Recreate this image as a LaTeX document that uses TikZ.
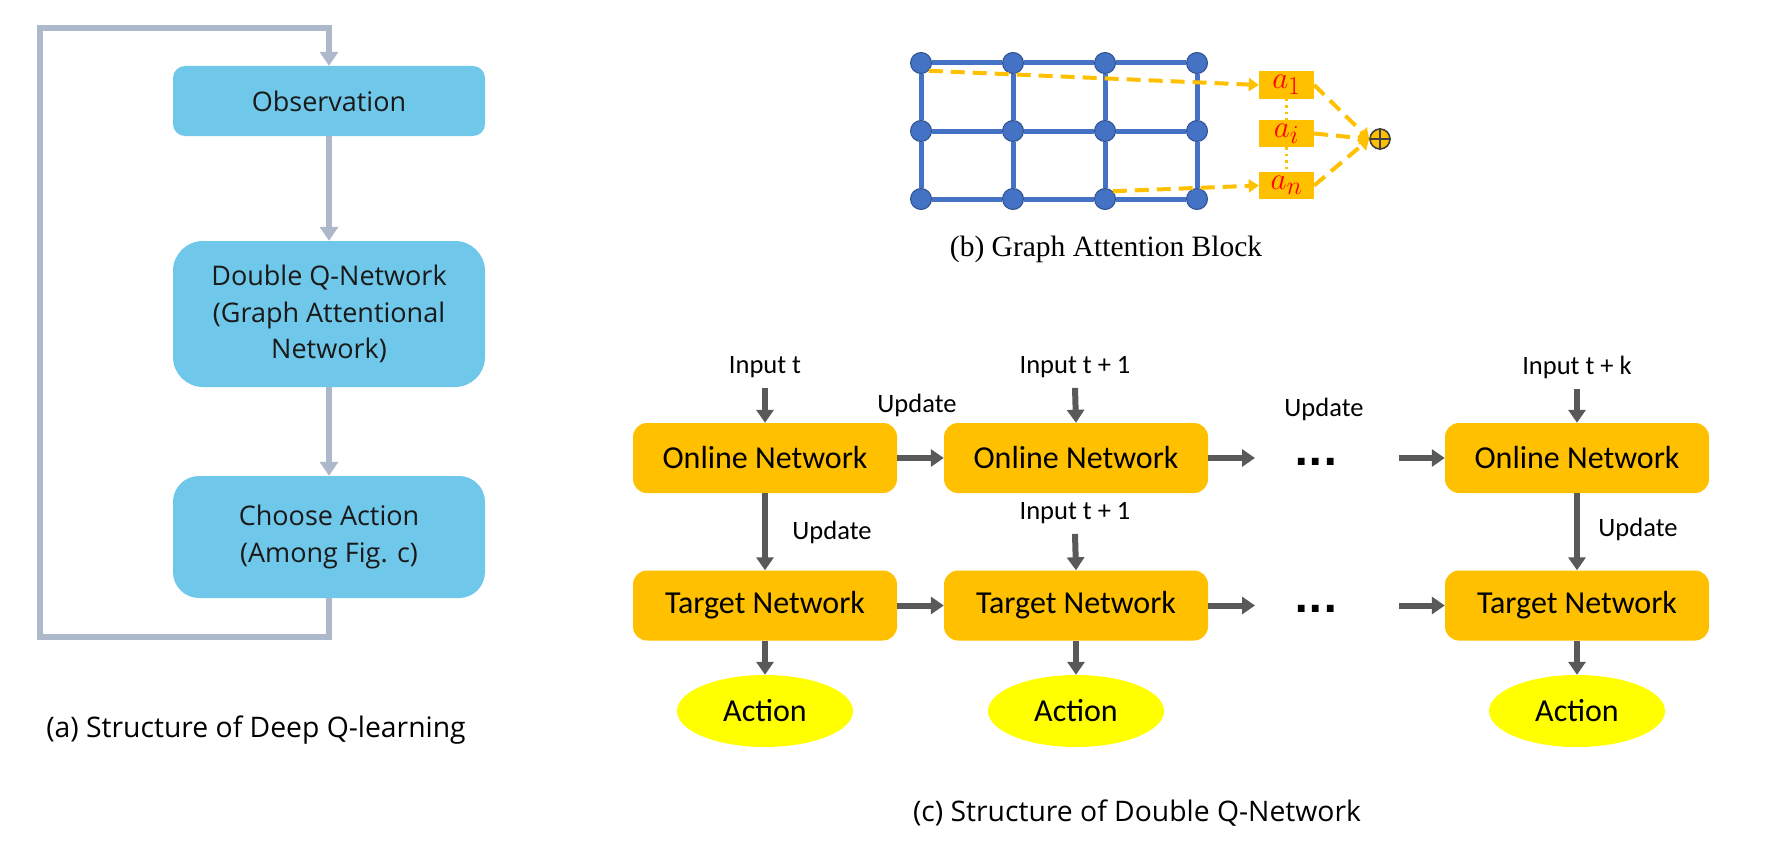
\documentclass[tikz,border=0pt]{standalone}
\usepackage{graphicx}
\usepackage{fontspec}
\setmainfont{Open Sans}
\newfontfamily\cfont{Carlito}
\newfontfamily\sfont{Liberation Serif}
\newfontfamily\dfont{DejaVu Sans}
\usetikzlibrary{arrows.meta,shapes.geometric}
\definecolor{skyb}{HTML}{6FC7EA}
\definecolor{loopc}{HTML}{ADB9CA}
\definecolor{gold}{HTML}{FFC000}
\definecolor{yel}{HTML}{FFFF00}
\definecolor{darkg}{HTML}{595959}
\definecolor{nodeb}{HTML}{4472C4}
\definecolor{nodebd}{HTML}{2F4F8F}
\definecolor{sumbd}{HTML}{404040}
\newcommand\amath[1]{\scalebox{1.25}{$#1$}}
\tikzset{
  abox/.style={fill=skyb, minimum width=312pt, inner sep=0pt, align=center,
    text=black!90, font=\fontsize{27}{36.6}\selectfont},
  aarrow/.style={draw=loopc, line width=6pt, -{Triangle[width=18pt,length=14pt]}},
  cbox/.style={fill=gold, rounded corners=14pt, minimum width=264pt,
    minimum height=70pt, inner sep=0pt, font=\cfont\fontsize{32}{36}\selectfont},
  cell/.style={ellipse, fill=yel, minimum width=176pt, minimum height=72pt,
    inner sep=0pt, font=\cfont\fontsize{32}{36}\selectfont},
  clbl/.style={font=\cfont\fontsize{26.5}{30}\selectfont, inner xsep=0pt, inner ysep=10pt},
  cdots/.style={font=\dfont\bfseries\fontsize{38}{40}\selectfont, inner sep=0pt},
  carrow/.style={draw=darkg, line width=6pt, -{Triangle[width=17pt,length=13pt]}},
  gnode/.style={circle, fill=nodeb, draw=nodebd, line width=1pt, minimum size=21pt, inner sep=0pt},
  gedge/.style={draw=nodeb, line width=5pt},
  ybox/.style={fill=gold, minimum width=55pt, minimum height=27pt, inner sep=0pt,
    text=red, font=\fontsize{24.88}{28}\selectfont},
  ydash/.style={draw=gold, line width=4pt, dash pattern=on 14pt off 8pt},
  ydashtip/.style={ydash, -{Triangle[width=13pt,length=10pt]}},
  ydot/.style={draw=gold, line width=2.5pt, dash pattern=on 2.5pt off 4pt},
  capfont/.style={font=\fontsize{28.3}{32}\selectfont},
}
\begin{document}
\begin{tikzpicture}[x=1pt,y=-1pt]
\useasboundingbox (0,0) rectangle (1765,859);

% ---------------- (a) ----------------
\node[abox, minimum height=70pt, rounded corners=12pt] (obs) at (329,101) {Observation};
\node[abox, minimum height=146pt, rounded corners=30pt] (dqn) at (329,314)
  {Double Q-Network\\(Graph Attentional\\Network)};
\node[abox, minimum height=122pt, rounded corners=26pt] (act) at (329,537)
  {Choose Action\\(Among Fig. c)};
\coordinate (lbl) at (40,637);
\coordinate (ltl) at (40,28);
\draw[aarrow] (obs.south) -- (dqn.north);
\draw[aarrow] (dqn.south) -- (act.north);
\draw[aarrow] (act.south) |- (lbl) -- (ltl) -| (obs.north);
\node[capfont] (capa) at (256,730) {(a) Structure of Deep Q-learning};

% ---------------- (b) ----------------
\foreach \c/\x in {1/921,2/1013,3/1105,4/1197}{
  \foreach \r/\y in {1/63,2/131,3/199}{
    \node[gnode] (n\r\c) at (\x,\y) {};
  }
}
\foreach \r in {1,2,3}{
  \draw[gedge] (n\r1) -- (n\r2);
  \draw[gedge] (n\r2) -- (n\r3);
  \draw[gedge] (n\r3) -- (n\r4);
}
\foreach \c in {1,2,3,4}{
  \draw[gedge] (n1\c) -- (n2\c);
  \draw[gedge] (n2\c) -- (n3\c);
}
\node[ybox] (a1) at (1286.5,85) {\amath{a_1}};
\node[ybox] (ai) at (1286.5,133.5) {\amath{a_i}};
\node[ybox] (an) at (1286.5,185.5) {\amath{a_n}};
\draw[ydot] (a1.south) -- (ai.north);
\draw[ydot] (ai.south) -- (an.north);
\draw[ydashtip] (n11.south east) -- (a1.west);
\draw[ydashtip] (n33.north east) -- (an.west);
\node[circle, fill=gold, draw=sumbd, line width=1.6pt, minimum size=20pt, inner sep=0pt] (sum) at (1380,139) {};
\draw[sumbd, line width=1.6pt] (sum.north) -- (sum.south) (sum.west) -- (sum.east);
\draw[ydashtip] (a1.east) -- (sum.west);
\draw[ydashtip] (ai.east) -- (sum.west);
\draw[ydashtip] (an.east) -- (sum.west);
\node[font=\sfont\fontsize{29.5}{32}\selectfont] (capb) at (1106,249) {(b) Graph Attention Block};

% ---------------- (c) ----------------
\node[cbox] (on1) at (765,458) {Online Network};
\node[cbox] (on2) at (1076,458) {Online Network};
\node[cbox] (on3) at (1577,458) {Online Network};
\node[cbox] (ta1) at (765,605.5) {Target Network};
\node[cbox] (ta2) at (1076,605.5) {Target Network};
\node[cbox] (ta3) at (1577,605.5) {Target Network};
\node[cell] (ac1) at (765,711) {Action};
\node[cell] (ac2) at (1076,711) {Action};
\node[cell] (ac3) at (1577,711) {Action};

\node[clbl] (in1) at (765,367) {Input t};
\node[clbl] (in2) at (1075,367) {Input t + 1};
\node[clbl] (in3) at (1577,367) {Input t + k};
\node[clbl] (in2b) at (1075,513) {Input t + 1};
\node[clbl] (up1) at (917,405) {Update};
\node[clbl] (up2) at (1324,409) {Update};
\node[clbl] (up3) at (832,532) {Update};
\node[clbl] (up4) at (1638,529) {Update};

\node[cdots] (dots1) at (1316,462) {...};
\node[cdots] (dots2) at (1316,609) {...};
\coordinate (d1l) at (1255,458);
\coordinate (d1r) at (1399,458);
\coordinate (d2l) at (1255,605.5);
\coordinate (d2r) at (1399,605.5);

\draw[carrow] (in1.south) -- (on1.north);
\draw[carrow] (in2.south) -- (on2.north);
\draw[carrow] (in3.south) -- (on3.north);
\draw[carrow] (in2b.south) -- (ta2.north);
\draw[carrow] (on1) -- (on2);
\draw[carrow] (on2.east) -- (d1l);
\draw[carrow] (d1r) -- (on3.west);
\draw[carrow] (ta1) -- (ta2);
\draw[carrow] (ta2.east) -- (d2l);
\draw[carrow] (d2r) -- (ta3.west);
\draw[carrow] (on1) -- (ta1);
\draw[carrow] (on3) -- (ta3);
\draw[carrow] (ta1) -- (ac1);
\draw[carrow] (ta2) -- (ac2);
\draw[carrow] (ta3) -- (ac3);

\node[capfont] (capc) at (1137,813) {(c) Structure of Double Q-Network};
\end{tikzpicture}
\end{document}
